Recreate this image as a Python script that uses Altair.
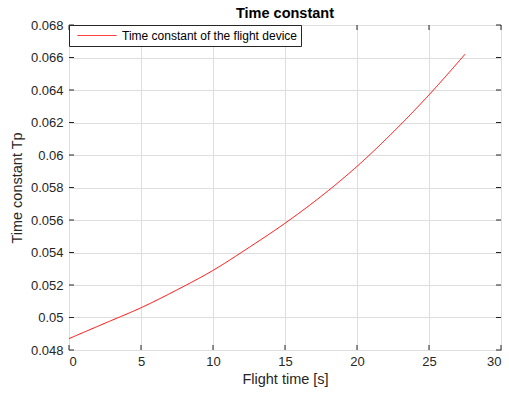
import altair as alt
import pandas as pd

# ---- data ----
time_s = [0, 2.5, 5, 7.5, 10, 12.5, 15, 17.5, 20, 22.5, 25, 27.5]
time_constant = [0.0487, 0.04965, 0.0506, 0.0517, 0.0529, 0.05431, 0.0558,
                 0.05745, 0.0593, 0.0614, 0.0637, 0.0662]
series_name = "Time constant of the flight device"
x_ticks = [0, 5, 10, 15, 20, 25, 30]
y_ticks = [0.048, 0.05, 0.052, 0.054, 0.056, 0.058, 0.06, 0.062, 0.064, 0.066, 0.068]

W, H = 432, 325
AX = "#262626"
RED = "#ff0000"
FONT = "Liberation Sans"

df = pd.DataFrame({"t": time_s, "tp": time_constant, "series": series_name})
xt = pd.DataFrame({"v": x_ticks})
yt = pd.DataFrame({"v": y_ticks})

xscale = alt.Scale(domain=[0, 30], nice=False, zero=False)
yscale = alt.Scale(domain=[0.048, 0.068], nice=False, zero=False)
xaxis = alt.Axis(values=x_ticks, format="d", labelOverlap=False)
yaxis = alt.Axis(values=y_ticks, format=".3~f", labelOverlap=False)


def X(field):
    return alt.X(field, type="quantitative", scale=xscale, axis=xaxis,
                 title="Flight time [s]")


def Y(field):
    return alt.Y(field, type="quantitative", scale=yscale, axis=yaxis,
                 title="Time constant Tp")


line = alt.Chart(df).mark_line(strokeWidth=1, color=RED, interpolate="monotone").encode(
    x=X("t"),
    y=Y("tp"),
    strokeDash=alt.StrokeDash(
        "series:N",
        scale=alt.Scale(domain=[series_name], range=[[1, 0]]),
        legend=alt.Legend(title=None, orient="top-left", offset=0,
                          strokeColor=AX, fillColor="white",
                          padding=4, symbolType="stroke",
                          symbolSize=1521, symbolStrokeWidth=1,
                          symbolStrokeColor=RED,
                          symbolOffset=4, labelOffset=5,
                          clipHeight=13, cornerRadius=0)),
)

tick_len = 5
yl = alt.Chart(yt).mark_rule(stroke=AX, strokeWidth=1).encode(
    y=Y("v"), x=alt.value(0), x2=alt.value(tick_len))
yr = alt.Chart(yt).mark_rule(stroke=AX, strokeWidth=1).encode(
    y=Y("v"), x=alt.value(W - tick_len), x2=alt.value(W))
xb = alt.Chart(xt).mark_rule(stroke=AX, strokeWidth=1).encode(
    x=X("v"), y=alt.value(H - tick_len), y2=alt.value(H))
xtp = alt.Chart(xt).mark_rule(stroke=AX, strokeWidth=1).encode(
    x=X("v"), y=alt.value(0), y2=alt.value(tick_len))

chart = alt.layer(line, xb, xtp, yl, yr).properties(
    width=W, height=H,
    autosize=alt.AutoSizeParams(type="none"),
    padding={"left": 69, "top": 25, "right": 8, "bottom": 44},
    background="white",
    title=alt.TitleParams("Time constant", fontSize=14.5, fontWeight="bold",
                          font=FONT, color="#000000", offset=-2, anchor="middle"),
).configure_view(stroke=AX, strokeWidth=1).configure_axis(
    grid=True, gridColor="#dedede", gridWidth=1, domain=False, ticks=False,
    labelFont=FONT, labelFontSize=13, labelColor=AX,
    titleFont=FONT, titleFontSize=14.5, titleColor=AX, titleFontWeight="normal",
).configure_axisX(labelPadding=5, titlePadding=4).configure_axisY(
    labelPadding=6, titlePadding=6).configure_legend(
    labelFont=FONT, labelFontSize=12, labelLimit=400, symbolStrokeColor=RED)

chart.save("out.html", embed_options={"renderer": "svg", "actions": False})
